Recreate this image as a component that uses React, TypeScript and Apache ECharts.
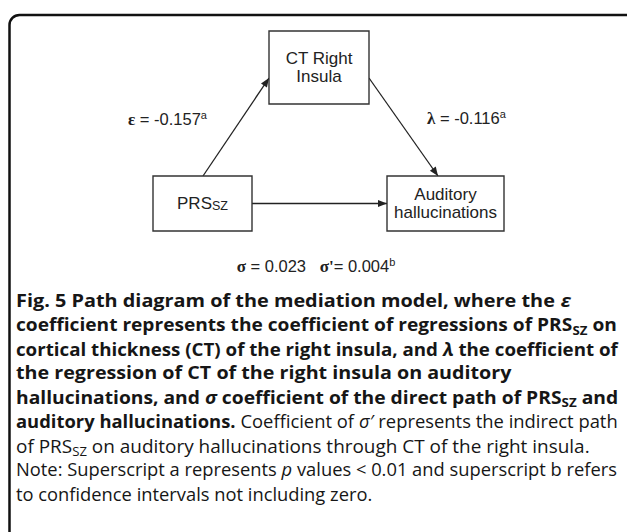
import React, { useEffect, useRef } from "react";
import * as echarts from "echarts";

// ---------------- data ----------------
const nodeLabels = ["CT Right\nInsula", "PRS", "Auditory\nhallucinations"];
const nodeSubscripts = ["", "SZ", ""];
const pathSymbols = ["ε", "λ", "σ", "σ'"];
const pathValues = [-0.157, -0.116, 0.023, 0.004];
const pathMarks = ["a", "a", "", "b"];
// edges: [fromNode, toNode]
const edges = [
  [1, 0],
  [0, 2],
  [1, 2],
];

type Seg = [string, string];
const captionLines: Seg[][] = [
  [["Fig. 5 Path diagram of the mediation model, where the ", "b"], ["ε", "bi"]],
  [["coefficient represents the coefficient of regressions of PRS", "b"], ["SZ", "bs"], [" on", "b"]],
  [["cortical thickness (CT) of the right insula, and ", "b"], ["λ", "bi"], [" the coefficient of", "b"]],
  [["the regression of CT of the right insula on auditory", "b"]],
  [["hallucinations, and ", "b"], ["σ", "bi"], [" coefficient of the direct path of PRS", "b"], ["SZ", "bs"], [" and", "b"]],
  [["auditory hallucinations.", "b"], [" Coefficient of ", "r"], ["σ′", "i"], [" represents the indirect path", "r"]],
  [["of PRS", "r"], ["SZ", "rs"], [" on auditory hallucinations through CT of the right insula.", "r"]],
  [["Note: Superscript a represents ", "r"], ["p", "i"], [" values < 0.01 and superscript b refers", "r"]],
  [["to confidence intervals not including zero.", "r"]],
];

// ---------------- layout ----------------
const BOXES = [
  { x: 269, y: 31, w: 100, h: 73 },
  { x: 153, y: 176, w: 99, h: 55 },
  { x: 387, y: 176, w: 117, h: 55 },
];
const EDGE_POINTS = [
  [[203, 176], [269, 78]],
  [[369, 78], [438, 176]],
  [[252, 203.5], [387, 203.5]],
];
const LABEL_POS = [
  { x: 128, y: 119, align: "left" },
  { x: 427, y: 118, align: "left" },
  { x: 316, y: 266, align: "center" },
];
const CAPTION_X = 16;
const CAPTION_Y0 = 300;
const CAPTION_STEP = 24.2;
// right end of each caption line; null = natural width (same compression as the line before)
const CAPTION_ENDS: (number | null)[] = [571, 617, 618, 512, 618, 618, 590, 617, null];

const SANS = "'Liberation Sans', Arial, sans-serif";
const SERIF = "'Liberation Serif', 'Times New Roman', serif";
const CAP = "'Open Sans', 'Noto Sans', sans-serif";
const INK = "#222";
const CAP_INK = "#161616";
const CAP_SIZE = 18;

const capRich: Record<string, any> = {
  b: { fontFamily: CAP, fontSize: CAP_SIZE, fontWeight: "bold", lineHeight: 24, fill: CAP_INK },
  bi: { fontFamily: CAP, fontSize: CAP_SIZE, fontWeight: "bold", fontStyle: "italic", lineHeight: 24, fill: CAP_INK },
  r: { fontFamily: CAP, fontSize: CAP_SIZE, fontWeight: "normal", lineHeight: 24, fill: CAP_INK },
  i: { fontFamily: CAP, fontSize: CAP_SIZE, fontWeight: "normal", fontStyle: "italic", lineHeight: 24, fill: CAP_INK },
  bs: { fontFamily: CAP, fontSize: 12.5, fontWeight: "bold", lineHeight: 15, verticalAlign: "bottom", fill: CAP_INK },
  rs: { fontFamily: CAP, fontSize: 12.5, fontWeight: "normal", lineHeight: 15, verticalAlign: "bottom", fill: CAP_INK },
};

const diagRich: Record<string, any> = {
  g: { fontFamily: SERIF, fontSize: 17, fontWeight: "bold", lineHeight: 20, fill: INK },
  t: { fontFamily: SANS, fontSize: 16.5, lineHeight: 20, fill: INK },
  sup: { fontFamily: SANS, fontSize: 11, lineHeight: 14, verticalAlign: "top", fill: INK },
  n: { fontFamily: SANS, fontSize: 17, lineHeight: 18, fill: INK },
  sub: { fontFamily: SANS, fontSize: 12.5, lineHeight: 14, verticalAlign: "bottom", fill: INK },
};

function richString(segs: Seg[]) {
  return segs.map(([t, k]) => `{${k}|${t}}`).join("");
}

function measure(text: string, rich: any) {
  const el = new (echarts.graphic as any).Text({ style: { text, rich } });
  return el.getBoundingRect().width;
}

function pathLabel(i: number) {
  const v = pathValues[i];
  const num = v.toFixed(3);
  const sym = pathSymbols[i];
  const eq = sym.endsWith("'") ? "= " : " = ";
  let s = `{g|${sym}}{t|${eq}${num}}`;
  if (pathMarks[i]) s += `{sup|${pathMarks[i]}}`;
  return s;
}

function arrowHead(p0: number[], p1: number[], len = 9, half = 3.6) {
  const dx = p1[0] - p0[0];
  const dy = p1[1] - p0[1];
  const d = Math.hypot(dx, dy);
  const ux = dx / d;
  const uy = dy / d;
  const bx = p1[0] - ux * len;
  const by = p1[1] - uy * len;
  return [
    [p1[0], p1[1]],
    [bx - uy * half, by + ux * half],
    [bx + uy * half, by - ux * half],
  ];
}

export default function App() {
  const ref = useRef<HTMLDivElement>(null);

  useEffect(() => {
    if (!ref.current) return;
    const chart = echarts.init(ref.current, null, { renderer: "svg" });
    const elements: any[] = [];

    // outer rounded frame (extends beyond right and bottom edges)
    elements.push({
      type: "rect",
      shape: { x: 9.5, y: 15, width: 640, height: 600, r: 10 },
      style: { fill: "#fff", stroke: "#111", lineWidth: 2.5 },
      z: 0,
    });

    // boxes
    BOXES.forEach((b, i) => {
      elements.push({
        type: "rect",
        shape: { x: b.x, y: b.y, width: b.w, height: b.h },
        style: { fill: "#fff", stroke: "#333", lineWidth: 1.4 },
        z: 2,
      });
      const lines = nodeLabels[i].split("\n");
      let txt = lines.map((l) => `{n|${l}}`).join("\n");
      if (nodeSubscripts[i]) txt += `{sub|${nodeSubscripts[i]}}`;
      elements.push({
        type: "text",
        x: b.x + b.w / 2,
        y: b.y + b.h / 2,
        style: { text: txt, rich: diagRich, align: "center", verticalAlign: "middle" },
        z: 3,
      });
    });

    // edges with arrowheads
    edges.forEach((e, i) => {
      const [p0, p1] = EDGE_POINTS[i];
      elements.push({
        type: "line",
        shape: { x1: p0[0], y1: p0[1], x2: p1[0], y2: p1[1] },
        style: { stroke: INK, lineWidth: 1.3 },
        z: 1,
      });
      elements.push({
        type: "polygon",
        shape: { points: arrowHead(p0, p1) },
        style: { fill: INK },
        z: 4,
      });
    });

    // path coefficient labels
    LABEL_POS.forEach((p, i) => {
      let txt = pathLabel(i);
      if (i === 2) txt = pathLabel(2) + "{t|   }" + pathLabel(3);
      elements.push({
        type: "text",
        x: p.x,
        y: p.y,
        style: { text: txt, rich: diagRich, align: p.align, verticalAlign: "middle" },
        z: 3,
      });
    });

    // caption
    let lastScale = 1;
    captionLines.forEach((segs, i) => {
      const text = richString(segs);
      const w = measure(text, capRich);
      const end = CAPTION_ENDS[i];
      const sx = end != null && w > 0 ? (end - CAPTION_X) / w : lastScale;
      lastScale = sx;
      elements.push({
        type: "text",
        x: CAPTION_X,
        y: CAPTION_Y0 + i * CAPTION_STEP,
        scaleX: sx,
        style: { text, rich: capRich, align: "left", verticalAlign: "middle" },
        z: 3,
      });
    });

    chart.setOption({
      animation: false,
      backgroundColor: "#fff",
      graphic: { elements },
    });
    return () => chart.dispose();
  }, []);

  return (
    <div
      ref={ref}
      style={{ position: "fixed", left: 0, top: 0, width: 627, height: 532, background: "#fff" }}
    />
  );
}
